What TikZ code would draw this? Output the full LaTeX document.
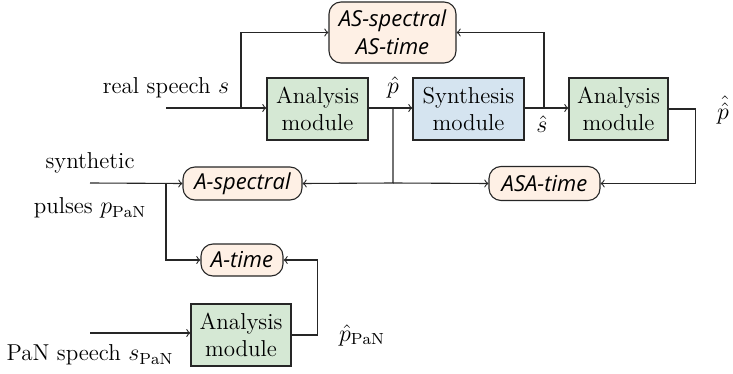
\documentclass[tikz,border=0pt]{standalone}
\usepackage{amsmath,amssymb}
\usepackage{fontspec}
\newfontfamily\metricfont{Open Sans}
\usepackage{tikz}

\definecolor{anagreen}{HTML}{D5E8D4}
\definecolor{synblue}{HTML}{D5E4F0}
\definecolor{metricfill}{HTML}{FEF0E5}

\tikzset{
  module/.style={draw=black!85,line width=0.55pt,rectangle,align=center,inner sep=0pt,
    font=\fontsize{11.5}{13.5}\selectfont},
  metric/.style={draw=black!85,line width=0.55pt,rectangle,rounded corners=6pt,align=center,
    inner sep=0pt,fill=metricfill,font=\metricfont\itshape\fontsize{11}{14}\selectfont},
  lbl/.style={font=\fontsize{11.5}{13.5}\selectfont},
  link/.style={->,draw=black!85,line width=0.55pt}
}

\begin{document}
\begin{tikzpicture}[x=0.5pt,y=-0.5pt]
\useasboundingbox (0,0) rectangle (733,374);
% boxes
\node[module,fill=anagreen,minimum width=50.5pt,minimum height=31pt] (ana1) at (317.5,109) {Analysis\\module};
\node[module,fill=synblue,minimum width=55.5pt,minimum height=31pt] (syn) at (468.5,109) {Synthesis\\module};
\node[module,fill=anagreen,minimum width=49.5pt,minimum height=31pt] (ana2) at (618.5,109) {Analysis\\module};
\node[module,fill=anagreen,minimum width=50pt,minimum height=31pt] (ana3) at (241,335) {Analysis\\module};
% metrics
\node[metric,minimum width=63.5pt,minimum height=30.5pt] (as) at (392.5,32.5) {AS-spectral\\AS-time};
\node[metric,minimum width=59.5pt,minimum height=16.5pt] (aspec) at (242.5,183.5) {A-spectral};
\node[metric,minimum width=41pt,minimum height=16pt] (atime) at (242,260) {A-time};
\node[metric,minimum width=55.5pt,minimum height=17pt] (asa) at (544.5,183.5) {ASA-time};
% texts
\node[lbl] (s) at (166,88) {real speech $s$};
\node[lbl] (syntxt) at (90,163) {synthetic};
\node[lbl] (pulses) at (90,208) {pulses $p_{\mathrm{PaN}}$};
\node[lbl] (pan) at (90,355) {PaN speech $s_{\mathrm{PaN}}$};
\node[lbl] (phat) at (393,88) {$\hat{p}$};
\node[lbl] (shat) at (542,124) {$\hat{s}$};
\node[lbl] (pphat) at (723,110) {$\hat{\hat{p}}$};
\node[lbl] (phatpan) at (362,335) {$\hat{p}_{\mathrm{PaN}}$};
% free ends
\coordinate (sin) at (166,108);
\coordinate (pin) at (90,183);
\coordinate (panin) at (90,333);
\coordinate (b1) at (241,108);
\coordinate (b2) at (393,108);
\coordinate (b3) at (544,108);
\coordinate (b4) at (166,183);
\coordinate (b5) at (393,183);
% links
\draw[link] (sin) -- (ana1.west |- sin);
\draw[link] (b1) |- (as.west);
\draw[link] (ana1.east |- b2) -- (syn.west |- b2);
\draw[link] (syn.east |- b3) -- (ana2.west |- b3);
\draw[link] (b3) |- (as.east);
\draw[link] (ana2.east) -- ++(27,0) |- (asa.east);
\draw[link] (b2) -- (b5) -- (aspec.east);
\draw[link] (b5) -- (asa.west);
\draw[link] (pin) -- (aspec.west);
\draw[link] (b4) |- (atime.west);
\draw[link] (panin) -- (ana3.west |- panin);
\draw[link] (ana3.east) -- ++(26,0) |- (atime.east);
\end{tikzpicture}
\end{document}
